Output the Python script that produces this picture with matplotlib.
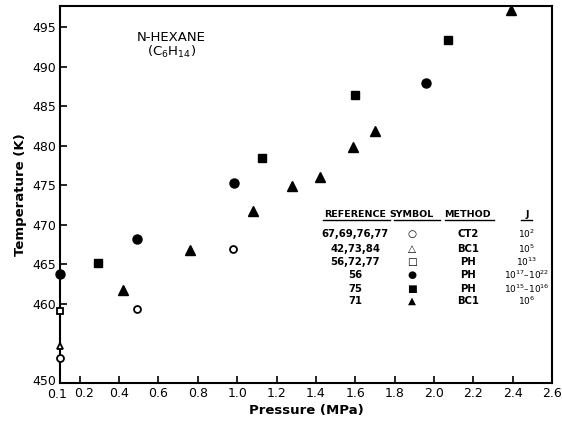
import matplotlib.pyplot as plt
import matplotlib.transforms as mtransforms
import numpy as np

# data (pressure MPa, temperature K)
ct2_p = [0.1, 0.49, 0.98]
ct2_t = [453.2, 459.3, 466.9]

bc1_open_p = [0.1]
bc1_open_t = [454.6]

ph_open_p = [0.1]
ph_open_t = [459.1]

ph_circ_p = [0.1, 0.49, 0.985, 1.96]
ph_circ_t = [463.8, 468.2, 475.3, 487.9]

ph_sq_p = [0.29, 1.125, 1.60, 2.07]
ph_sq_t = [465.2, 478.4, 486.4, 493.4]

bc1_tri_p = [0.42, 0.76, 1.08, 1.28, 1.42, 1.59, 1.70, 2.39]
bc1_tri_t = [461.8, 466.8, 471.8, 474.9, 476.0, 479.9, 481.9, 497.2]

xticks = [0.1, 0.2, 0.4, 0.6, 0.8, 1.0, 1.2, 1.4, 1.6, 1.8, 2.0, 2.2, 2.4, 2.6]
yticks = [450, 460, 465, 470, 475, 480, 485, 490, 495]

tbl_ref = ['67,69,76,77', '42,73,84', '56,72,77', '56', '75', '71']
tbl_sym = ['\u25cb', '\u25b3', '\u25a1', '\u25cf', '\u25a0', '\u25b2']
tbl_meth = ['CT2', 'BC1', 'PH', 'PH', 'PH', 'BC1']
tbl_j = ['$10^{2}$', '$10^{5}$', '$10^{13}$', '$10^{17}$\u2013$10^{22}$',
         '$10^{15}$\u2013$10^{16}$', '$10^{6}$']

plt.rcParams['mathtext.default'] = 'regular'

fig = plt.figure(figsize=(5.62, 4.23), dpi=100)
ax = fig.add_axes([0.107, 0.095, 0.875, 0.891])

kw = dict(linestyle='none', color='black', clip_on=False, zorder=5)
ax.plot(ct2_p, ct2_t, marker='o', ms=5, mfc='white', mew=1.3, **kw)
ax.plot(bc1_open_p, bc1_open_t, marker='^', ms=5, mfc='white', mew=1.3, **kw)
ax.plot(ph_open_p, ph_open_t, marker='s', ms=5, mfc='white', mew=1.3, **kw)
ax.plot(ph_circ_p, ph_circ_t, marker='o', ms=6.5, **kw)
ax.plot(ph_sq_p, ph_sq_t, marker='s', ms=6, **kw)
ax.plot(bc1_tri_p, bc1_tri_t, marker='^', ms=6.5, **kw)

ax.set_xlim(0.1, 2.6)
ax.set_ylim(450, 497.7)
ax.set_xticks(xticks)
ax.set_xticklabels(['%.1f' % v for v in xticks])
ax.set_yticks(yticks)
ax.tick_params(direction='in', length=5, width=1.2, labelsize=9, pad=3)
for s in ax.spines.values():
    s.set_linewidth(1.5)

# nudge the crowded corner labels apart
def nudge(lab, dx, dy):
    lab.set_transform(lab.get_transform() +
                      mtransforms.ScaledTranslation(dx / 100, dy / 100, fig.dpi_scale_trans))

xlabs = ax.get_xticklabels()
nudge(xlabs[0], -3, -1)
nudge(xlabs[1], 4, 0)
nudge(ax.get_yticklabels()[0], 0, 3)

ax.set_xlabel('Pressure (MPa)', fontsize=9.5, fontweight='bold', labelpad=2)
ax.set_ylabel('Temperature (K)', fontsize=9.5, fontweight='bold', labelpad=4)

ax.text(0.226, 0.917, 'N-HEXANE', transform=ax.transAxes, ha='center', va='center',
        fontsize=9.5)
ax.text(0.226, 0.878, '(C$_6$H$_{14}$)', transform=ax.transAxes, ha='center',
        va='center', fontsize=9.5)

# reference table
cols = [0.600, 0.715, 0.829, 0.949]
heads = ['REFERENCE', 'SYMBOL', 'METHOD', 'J']
for c, h in zip(cols, heads):
    ax.text(c, 0.446, h, transform=ax.transAxes, ha='center', va='center',
            fontsize=6.8, fontweight='bold')
for x0, x1 in [(323, 390), (394, 440), (445, 494), (521, 532)]:
    ax.plot([(x0 - 60) / 492, (x1 - 60) / 492], [0.432, 0.432], color='black',
            lw=1, transform=ax.transAxes, clip_on=False)

rows_y = [0.395, 0.355, 0.321, 0.286, 0.249, 0.217]
for i, y in enumerate(rows_y):
    ax.text(cols[0], y, tbl_ref[i], transform=ax.transAxes, ha='center',
            va='center', fontsize=7.3, fontweight='bold')
    ax.text(cols[1], y, tbl_sym[i], transform=ax.transAxes, ha='center',
            va='center', fontsize=7.5)
    ax.text(cols[2], y, tbl_meth[i], transform=ax.transAxes, ha='center',
            va='center', fontsize=7.3, fontweight='bold')
    ax.text(cols[3], y, tbl_j[i], transform=ax.transAxes, ha='center',
            va='center', fontsize=6.5)

fig.savefig('out.png', dpi=100)
